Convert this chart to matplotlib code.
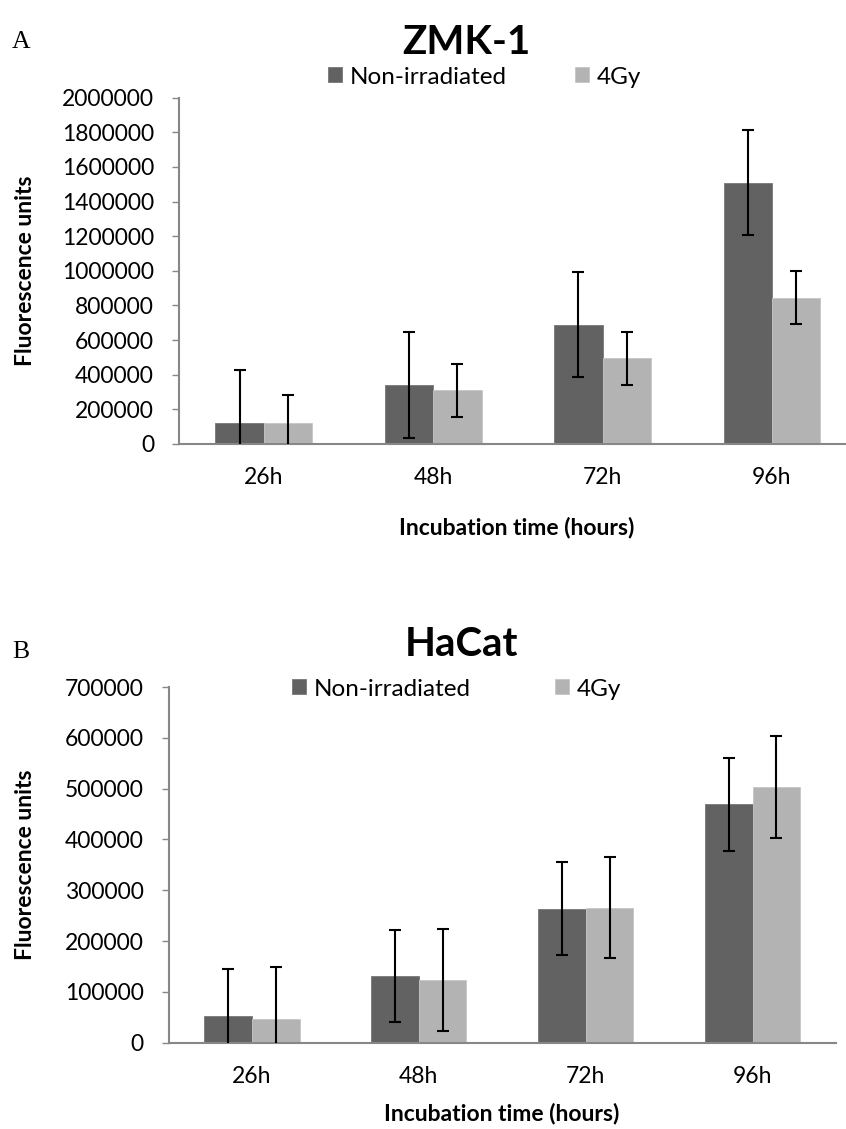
import matplotlib
matplotlib.use("Agg")
import matplotlib.pyplot as plt

plt.rcParams['font.family'] = ['Lato', 'DejaVu Sans']

# Incubation times shared by both cell lines
times = ["26h", "48h", "72h", "96h"]
series_names = ["Non-irradiated", "4Gy"]

# ZMK-1 fluorescence (mean and error)
zmk_control = [123000, 340000, 689000, 1510000]
zmk_control_err = [306000, 305000, 302000, 305000]
zmk_4gy = [123000, 310000, 495000, 845000]
zmk_4gy_err = [158000, 154000, 152000, 153000]

# HaCat fluorescence (mean and error)
hacat_control = [53000, 131000, 264000, 469000]
hacat_control_err = [92000, 91000, 91000, 91000]
hacat_4gy = [47000, 124000, 266000, 503000]
hacat_4gy_err = [101000, 100000, 100000, 101000]

zmk_ticks = list(range(0, 2000001, 200000))
hacat_ticks = list(range(0, 700001, 100000))

DARK = "#626262"
LIGHT = "#b3b3b3"
AXIS_GRAY = "#878787"

W, H = 846, 1129
fig = plt.figure(figsize=(W / 100, H / 100), dpi=100)


def px_rect(left, top, right, bottom):
    # convert a pixel box into figure fractions
    return [left / W, 1 - bottom / H, (right - left) / W, (bottom - top) / H]


def draw_panel(rect, control, control_err, irr, irr_err, yticks,
               legend_xy, colspace):
    ax = fig.add_axes(rect)
    x = list(range(len(times)))
    width = 1 / 3.5
    xl = [i - width / 2 for i in x]
    xr = [i + width / 2 for i in x]

    ax.bar(xl, control, width, color=DARK, edgecolor="#777777",
           linewidth=0.6, label=series_names[0], zorder=2)
    ax.bar(xr, irr, width, color=LIGHT, edgecolor="#c6c6c6",
           linewidth=0.6, label=series_names[1], zorder=2)
    ax.errorbar(xl, control, yerr=control_err, fmt="none", ecolor="black",
                elinewidth=1.5, capsize=4, capthick=1.5, zorder=3)
    ax.errorbar(xr, irr, yerr=irr_err, fmt="none", ecolor="black",
                elinewidth=1.5, capsize=4, capthick=1.5, zorder=3)

    ax.set_xlim(-0.5, len(times) - 0.5)
    ax.set_ylim(0, yticks[-1])
    ax.set_yticks(yticks)
    ax.set_yticklabels([str(t) for t in yticks])
    ax.set_xticks(x)
    ax.set_xticklabels(times)

    for side in ["top", "right"]:
        ax.spines[side].set_visible(False)
    for side in ["left", "bottom"]:
        ax.spines[side].set_color(AXIS_GRAY)
        ax.spines[side].set_linewidth(1.5)

    ax.tick_params(axis="y", direction="out", length=5, width=1,
                   color=AXIS_GRAY, labelsize=16.5, pad=13)
    ax.tick_params(axis="x", length=0, labelsize=16.5, pad=16.5)

    ax.legend(loc="center", bbox_to_anchor=legend_xy,
              bbox_transform=fig.transFigure, ncol=2, frameon=False,
              fontsize=17.5, handlelength=0.58, handleheight=0.58,
              handletextpad=0.3, columnspacing=colspace,
              borderpad=0, borderaxespad=0)
    return ax


# panel A: ZMK-1
draw_panel(px_rect(179, 97.7, 856.6, 444), zmk_control, zmk_control_err,
           zmk_4gy, zmk_4gy_err, zmk_ticks,
           (484.5 / W, 1 - 77 / H), 2.8)
fig.text(466 / W, 1 - 42 / H, "ZMK-1", ha="center", va="center",
         fontsize=29, fontweight="bold")
fig.text(25 / W, 1 - 271 / H, "Fluorescence units", rotation=90,
         ha="center", va="center", fontsize=16.5, fontweight="bold")
fig.text(517 / W, 1 - 528 / H, "Incubation time (hours)", ha="center",
         va="center", fontsize=16.5, fontweight="bold")
fig.text(12 / W, 1 - 42 / H, "A", ha="left", va="center", fontsize=18.5,
         family="Liberation Serif")

# panel B: HaCat
draw_panel(px_rect(168.5, 687, 836, 1042.7), hacat_control, hacat_control_err,
           hacat_4gy, hacat_4gy_err, hacat_ticks,
           (456.5 / W, 1 - 689 / H), 3.5)
fig.text(461 / W, 1 - 645 / H, "HaCat", ha="center", va="center",
         fontsize=29, fontweight="bold")
fig.text(25 / W, 1 - 865 / H, "Fluorescence units", rotation=90,
         ha="center", va="center", fontsize=16.5, fontweight="bold")
fig.text(502 / W, 1 - 1114 / H, "Incubation time (hours)", ha="center",
         va="center", fontsize=16.5, fontweight="bold")
fig.text(12 / W, 1 - 652 / H, "B", ha="left", va="center", fontsize=18.5,
         family="Liberation Serif")

fig.savefig("out.png", dpi=100)
